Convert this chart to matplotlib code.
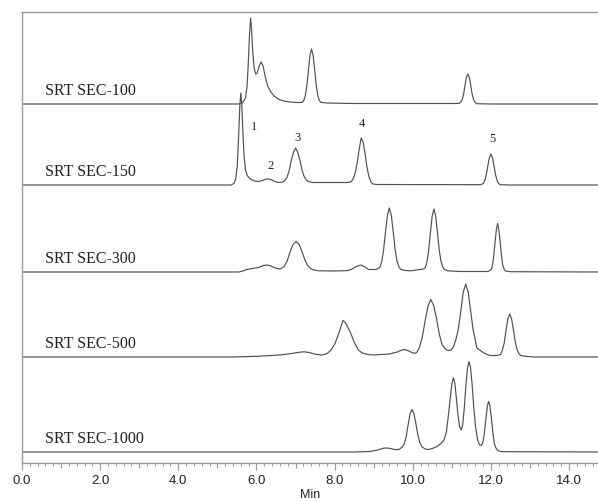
import matplotlib
matplotlib.use("Agg")
import matplotlib.pyplot as plt
from matplotlib.ticker import MultipleLocator, FormatStrFormatter

sec100_t = [0.0, 5.55, 5.65, 5.72, 5.76, 5.79, 5.82, 5.85, 5.875, 5.90, 5.94, 5.98,
            6.02, 6.07, 6.12, 6.17, 6.22, 6.28, 6.35, 6.45, 6.58, 6.75, 7.0, 7.17,
            7.21, 7.25, 7.29, 7.33, 7.37, 7.41, 7.45, 7.49, 7.53, 7.57, 7.61, 7.65,
            7.8, 8.5, 11.0, 11.185, 11.22, 11.26, 11.30, 11.335, 11.37, 11.41, 11.45,
            11.485, 11.52, 11.56, 11.60, 11.635, 12.0, 14.8]
sec100_h = [0, 0, 1.5, 6, 18, 40, 68, 86, 75, 55, 36, 30,
            31, 38, 42, 38, 28, 19, 13, 8, 4.5, 2.5, 1.5, 1.6,
            3.4, 8.3, 18.3, 34, 48.5, 55, 48.5, 34, 18.3, 8.3, 3.4, 1.6,
            1, 0.5, 0.5, 0.6, 1.5, 4, 9.6, 18.3, 26.4, 30, 26.4,
            18.3, 9.6, 4, 1.3, 0.3, 0, 0]

sec150_t = [0.0, 5.35, 5.42, 5.47, 5.51, 5.545, 5.575, 5.60, 5.625, 5.65, 5.68, 5.72,
            5.77, 5.84, 5.95, 6.05, 6.15, 6.25, 6.33, 6.42, 6.50, 6.57, 6.67, 6.725,
            6.78, 6.835, 6.89, 6.945, 7.00, 7.055, 7.11, 7.165, 7.22, 7.275, 7.33, 7.45,
            7.8, 8.30, 8.38, 8.43, 8.48, 8.53, 8.58, 8.63, 8.68, 8.73, 8.78, 8.83,
            8.88, 8.93, 8.98, 9.1, 11.7, 11.76, 11.80, 11.84, 11.88, 11.92, 11.96, 12.00,
            12.04, 12.08, 12.12, 12.16, 12.20, 12.24, 12.5, 14.8]
sec150_h = [0, 0, 1.5, 6, 20, 50, 80, 92, 80, 55, 30, 15,
            9, 6, 4, 3.5, 4.5, 6, 6, 4.5, 3, 2.5, 3, 4.5,
            7.5, 14, 24.5, 32.5, 37, 33, 25, 15, 8.5, 5, 3.5, 2.5,
            2.5, 2.5, 2.8, 3.5, 6.5, 12.5, 23, 36, 47, 43, 31, 17.5,
            8, 3, 1, 0.5, 0.3, 0.6, 1.5, 4.2, 9.9, 18.9, 27.3, 31,
            27.3, 18.9, 9.9, 4.2, 1.3, 0.3, 0, 0]

sec300_t = [0.0, 5.55, 5.65, 5.75, 5.90, 6.05, 6.18, 6.27, 6.37, 6.48, 6.58, 6.63,
            6.71, 6.785, 6.86, 6.935, 7.01, 7.085, 7.16, 7.235, 7.31, 7.385, 7.46, 7.6,
            7.9, 8.2, 8.35, 8.45, 8.55, 8.67, 8.78, 8.87, 8.95, 9.06, 9.155, 9.204,
            9.253, 9.302, 9.351, 9.40, 9.449, 9.498, 9.547, 9.596, 9.645, 9.70, 9.80, 9.95,
            10.10, 10.27, 10.315, 10.36, 10.405, 10.45, 10.495, 10.54, 10.585, 10.63, 10.675, 10.72,
            10.765, 10.81, 10.9, 11.2, 11.8, 11.93, 12.01, 12.04, 12.07, 12.105, 12.14, 12.17,
            12.20, 12.235, 12.27, 12.30, 12.335, 12.37, 12.5, 14.8]
sec300_h = [0, 0, 1, 2.5, 3.5, 4.5, 6.5, 7, 6, 4, 3, 3.5,
            5.5, 11, 20, 27.5, 30.5, 28, 21, 12.5, 6.5, 3.5, 2, 1.2,
            1, 1.2, 1.5, 3, 5.5, 7, 5, 2.5, 2.5, 2.5, 4.5, 10,
            22, 40, 56.5, 64, 57, 41, 23, 11, 5, 2.5, 1.5, 1.2,
            2, 3, 4, 9.5, 21, 39, 55.5, 63, 56, 40, 22.5, 11,
            5, 2.5, 1.2, 0.5, 0.5, 0.5, 2.5, 6.8, 15.5, 29.5, 42.5, 48.5,
            43, 30.5, 16.5, 7.5, 3, 1, 0.3, 0]

sec500_t = [0.0, 5.4, 6.0, 6.6, 6.9, 7.1, 7.22, 7.35, 7.50, 7.68, 7.81, 7.91,
            8.01, 8.11, 8.16, 8.21, 8.26, 8.31, 8.41, 8.51, 8.61, 8.71, 8.85, 9.0,
            9.2, 9.4, 9.6, 9.72, 9.80, 9.90, 10.0, 10.06, 10.10, 10.17, 10.245, 10.3175,
            10.39, 10.46, 10.535, 10.61, 10.68, 10.75, 10.83, 10.90, 10.975, 11.04, 11.10, 11.1625,
            11.226, 11.29, 11.354, 11.4175, 11.48, 11.545, 11.64, 11.80, 11.90, 11.98, 12.15, 12.245,
            12.29, 12.34, 12.386, 12.433, 12.48, 12.527, 12.574, 12.62, 12.668, 12.715, 12.76, 12.9,
            13.1, 14.8]
sec500_h = [0, 0, 0.7, 2, 3.5, 4.8, 5.2, 4.5, 2.8, 2, 3.5, 7,
            13.5, 24, 30, 36.5, 35, 32, 24, 14, 7, 4, 2.5, 2,
            2.5, 3, 5, 7, 7.5, 6, 4, 3.8, 4.5, 9.5, 20, 36.5,
            51, 57.5, 51.5, 38, 22.5, 12.5, 8, 6.5, 7, 10, 17, 27,
            45, 64.5, 73, 65, 46.5, 27, 9, 4.5, 2.5, 1.5, 1.5, 2.5,
            6.5, 14, 26.5, 38, 43, 38.5, 27.5, 15.5, 7.5, 3.5, 1.5, 0.6,
            0, 0]

sec1000_t = [0.0, 8.5, 8.9, 9.1, 9.25, 9.35, 9.45, 9.55, 9.65, 9.73, 9.78, 9.83,
             9.88, 9.93, 9.98, 10.03, 10.08, 10.13, 10.18, 10.24, 10.32, 10.38, 10.50, 10.62,
             10.72, 10.80, 10.86, 10.91, 10.96, 11.00, 11.04, 11.08, 11.12, 11.16, 11.20, 11.24,
             11.28, 11.32, 11.36, 11.40, 11.44, 11.48, 11.52, 11.56, 11.61, 11.66, 11.71, 11.75,
             11.79, 11.83, 11.87, 11.91, 11.94, 11.97, 12.01, 12.05, 12.09, 12.14, 12.20, 12.30,
             14.8]
sec1000_h = [0, 0, 0.5, 2, 3.8, 4, 3.3, 2.3, 2.5, 5, 8, 15,
             27, 38, 42.5, 38.5, 28.5, 17, 9.5, 5, 3, 2.5, 3.5, 5.5,
             8.5, 12, 20, 36, 54, 68, 74.5, 68, 52, 36, 25, 22,
             28, 45, 67, 84, 90.5, 84, 67, 45, 24, 12, 7, 6.5,
             9, 18, 33, 46, 50.5, 47, 35, 19, 8, 3, 1, 0.3,
             0]

trace_names = ["SRT SEC-100", "SRT SEC-150", "SRT SEC-300", "SRT SEC-500", "SRT SEC-1000"]
peak_numbers = ["1", "2", "3", "4", "5"]
peak_times = [5.94, 6.37, 7.04, 8.70, 12.03]
peak_label_heights = [58, 19, 47, 61, 46]

tracce = [(sec100_t, sec100_h), (sec150_t, sec150_h), (sec300_t, sec300_h),
          (sec500_t, sec500_h), (sec1000_t, sec1000_h)]
offsets = [359, 278, 191, 106, 11]

fig = plt.figure(figsize=(5.98, 5.01), dpi=100)
ax = fig.add_axes([22 / 598, 38 / 501, 1 - 22 / 598, 451 / 501])

line_col = "#505050"
for (t, h), off, nome in zip(tracce, offsets, trace_names):
    ax.plot(t, [v + off for v in h], color=line_col, lw=0.85)
    ax.text(0.59, off + 9, nome, family="Liberation Serif", fontsize=11.5,
            color="#222222", va="baseline", ha="left")

# numeri dei picchi sulla traccia SEC-150
for num, tp, hp in zip(peak_numbers, peak_times, peak_label_heights):
    ax.text(tp, offsets[1] + hp, num, family="Liberation Serif", fontsize=9,
            color="#222222", ha="center", va="center")

ax.set_xlim(0, 14.74)
ax.set_ylim(0, 451)
ax.set_yticks([])

for s in ["top", "left", "bottom"]:
    ax.spines[s].set_color("#9a9a9a")
    ax.spines[s].set_linewidth(1.0)
ax.spines["right"].set_visible(False)

ax.xaxis.set_major_locator(MultipleLocator(2.0))
ax.xaxis.set_minor_locator(MultipleLocator(0.2))
ax.xaxis.set_major_formatter(FormatStrFormatter("%.1f"))
ax.tick_params(axis="x", which="major", length=5, width=0.8, color="#9a9a9a",
               pad=3.5, labelsize=9.5, labelcolor="#222222")
ax.tick_params(axis="x", which="minor", length=2.2, width=0.8, color="#9a9a9a")
for lab in ax.get_xticklabels():
    lab.set_family("Liberation Sans")

# tacche intermedie sui minuti dispari
for loc, tick in zip(ax.xaxis.get_minorticklocs(), ax.xaxis.get_minor_ticks()):
    if abs(loc - round(loc)) < 1e-6:
        tick.tick1line.set_markersize(3.6)

ax.set_xlabel("Min", family="Liberation Sans", fontsize=9, labelpad=1.5, color="#222222")

fig.savefig("out.png", dpi=100)
